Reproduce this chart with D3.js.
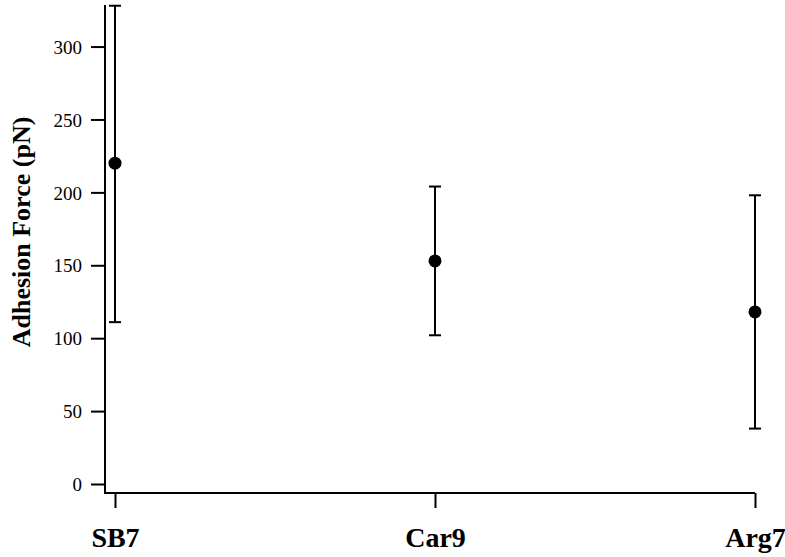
<!DOCTYPE html>
<html>
<head>
<meta charset="utf-8">
<script src="https://d3js.org/d3.v7.min.js"></script>
<style>
  body { margin: 0; background: #fff; }
  svg text { font-family: "Liberation Serif", "Times New Roman", serif; fill: #000; }
</style>
</head>
<body>
<svg width="785" height="557"></svg>
<script>
// data
var groups = ["SB7", "Car9", "Arg7"];
var means = [220, 153, 118];
var upper = [328, 204, 198];
var lower = [111, 102, 38];
var yTicks = [0, 50, 100, 150, 200, 250, 300];

var svg = d3.select("svg");

var xScale = d3.scalePoint().domain(groups).range([115, 755]);
var yScale = d3.scaleLinear().domain([0, 328.5]).range([484, 5]);

var axisLeftX = 105;
var axisBottomY = 493;

// y axis
var yAxis = d3.axisLeft(yScale).tickValues(yTicks).tickSize(14).tickPadding(9).tickSizeOuter(0);
var gy = svg.append("g")
  .attr("transform", "translate(" + axisLeftX + ",0)")
  .call(yAxis);
gy.select(".domain").remove();
gy.selectAll(".tick line").attr("stroke", "#000").attr("stroke-width", 2);
gy.selectAll(".tick text").style("font-size", "19px").attr("dy", "0.35em");

// x axis
var xAxis = d3.axisBottom(xScale).tickSize(15).tickPadding(0).tickSizeOuter(0);
var gx = svg.append("g")
  .attr("transform", "translate(0," + axisBottomY + ")")
  .call(xAxis);
gx.select(".domain").remove();
gx.selectAll(".tick line").attr("stroke", "#000").attr("stroke-width", 2);
gx.selectAll(".tick text")
  .style("font-size", "28px")
  .style("font-weight", "bold")
  .attr("y", 54)
  .attr("dy", 0);

// axis lines
svg.append("path")
  .attr("d", "M" + axisLeftX + "," + yScale(328.5) + "V" + axisBottomY + "H" + xScale("Arg7"))
  .attr("fill", "none")
  .attr("stroke", "#000")
  .attr("stroke-width", 2);

// y label
svg.append("text")
  .attr("transform", "translate(30,232) rotate(-90)")
  .attr("text-anchor", "middle")
  .style("font-size", "26px")
  .style("font-weight", "bold")
  .text("Adhesion Force (pN)");

// error bars
var capW = 6;
var pts = groups.map(function(g, i) {
  return { g: g, m: means[i], hi: upper[i], lo: lower[i] };
});

var bars = svg.append("g").selectAll("g").data(pts).enter().append("g");
bars.append("line")
  .attr("x1", function(d) { return xScale(d.g); })
  .attr("x2", function(d) { return xScale(d.g); })
  .attr("y1", function(d) { return yScale(d.hi); })
  .attr("y2", function(d) { return yScale(d.lo); })
  .attr("stroke", "#000").attr("stroke-width", 2);
bars.append("line")
  .attr("x1", function(d) { return xScale(d.g) - capW; })
  .attr("x2", function(d) { return xScale(d.g) + capW; })
  .attr("y1", function(d) { return yScale(d.hi); })
  .attr("y2", function(d) { return yScale(d.hi); })
  .attr("stroke", "#000").attr("stroke-width", 2);
bars.append("line")
  .attr("x1", function(d) { return xScale(d.g) - capW; })
  .attr("x2", function(d) { return xScale(d.g) + capW; })
  .attr("y1", function(d) { return yScale(d.lo); })
  .attr("y2", function(d) { return yScale(d.lo); })
  .attr("stroke", "#000").attr("stroke-width", 2);
bars.append("circle")
  .attr("cx", function(d) { return xScale(d.g); })
  .attr("cy", function(d) { return yScale(d.m); })
  .attr("r", 6.5)
  .attr("fill", "#000");
</script>
</body>
</html>
